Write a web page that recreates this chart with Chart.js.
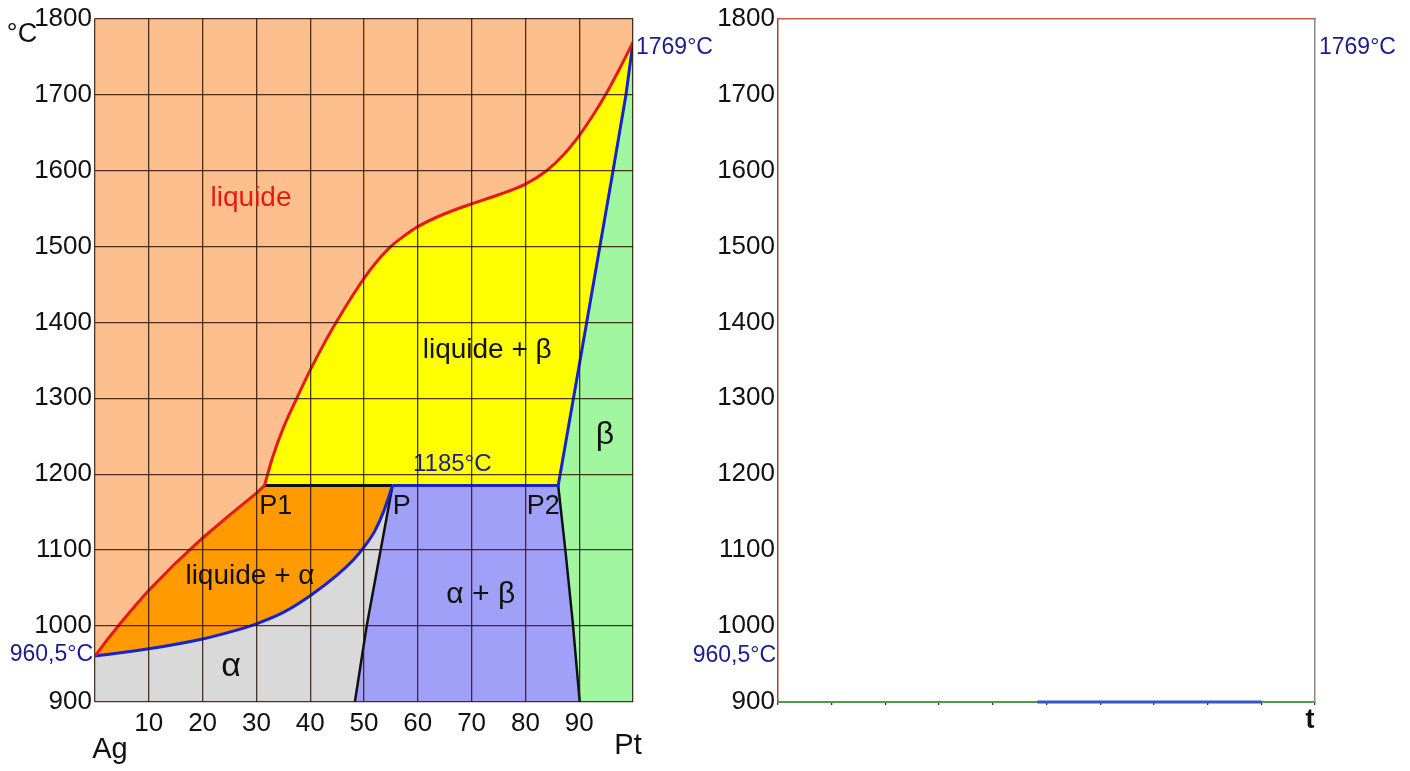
<!DOCTYPE html>
<html>
<head>
<meta charset="utf-8">
<title>Diagramme Ag-Pt</title>
<script src="https://cdn.jsdelivr.net/npm/chart.js@4.4.1/dist/chart.umd.min.js"></script>
<style>
  html, body { margin: 0; padding: 0; background: #fff; }
  #wrap { position: relative; width: 1410px; height: 771px; }
  .box { position: absolute; top: 0; height: 771px; }
  #left { left: 0; width: 715px; }
  #right { left: 685px; width: 725px; }
</style>
</head>
<body>
<div id="wrap">
  <div class="box" id="left"><canvas id="phaseChart"></canvas></div>
  <div class="box" id="right"><canvas id="coolingChart"></canvas></div>
</div>
<script>
// axes: composition (% Pt) and temperature (°C)
const ptTicks = [10, 20, 30, 40, 50, 60, 70, 80, 90];
const tempTicks = [900, 1000, 1100, 1200, 1300, 1400, 1500, 1600, 1700, 1800];

const meltAg = 960.5;
const meltPt = 1769;
const plateauT = 1185;
const P1 = 31.5, P = 55.3, P2 = 86.1;

// liquidus, Ag side (down to P1)
const liquidusAgX = [0, 2.5, 5, 7.5, 10, 15, 20, 25, 30, 31.5];
const liquidusAgY = [960.5, 984, 1006, 1027, 1047, 1083, 1116, 1146, 1175, 1185];

// liquidus, Pt side (from P1 up to Pt)
const liquidusPtX = [31.5, 33, 35, 37.5, 40, 42.5, 45, 47.5, 50, 52.5, 55, 57.5, 60, 65, 70, 75, 80, 84, 87, 90, 92.5, 95, 97.5, 100];
const liquidusPtY = [1185, 1222, 1261, 1300, 1337, 1371, 1402, 1431, 1458, 1481, 1500, 1514, 1526, 1543, 1556, 1568, 1582, 1600, 1620, 1646, 1672, 1701, 1734, 1769];

// solidus of alpha (Ag to P)
const solidusAgX = [0, 10, 20, 25, 30, 35, 40, 45, 48, 50, 52, 53.6, 55.3];
const solidusAgY = [960.5, 970, 983, 992, 1003, 1018, 1040, 1067, 1087, 1104, 1125, 1150, 1185];

// solidus of beta (P2 to Pt)
const solidusPtX = [86.1, 91, 96.3, 98.7, 100];
const solidusPtY = [1185, 1384, 1600, 1700, 1769];

// solvus lines
const solvusAlphaX = [48.3, 50.5, 55.3];
const solvusAlphaY = [900, 1000, 1185];
const solvusBetaX = [86.1, 87.5, 88.8, 90.1];
const solvusBetaY = [1185, 1095, 1005, 900];

// texts inside the diagram
const phaseLabels = ['liquide', 'liquide + β', 'liquide + α', 'α', 'α + β', 'β', '1185°C', 'P1', 'P', 'P2'];
const phaseLabelPt = [29, 72.9, 28.8, 25.3, 71.7, 94.8, 66.4, 33.6, 57, 83.3];
const phaseLabelT = [1564, 1363, 1066, 946, 1041, 1251, 1213, 1157, 1158, 1157];

const FONT = "'Liberation Sans', Arial, sans-serif";
const GRID = 'rgba(45,22,8,0.85)';
const RED = '#e41b17';
const BLUE = '#1a22d0';
const NAVY = '#1c1c8c';

const pts = (xs, ys) => xs.map((x, i) => ({ x, y: ys[i] }));
const at = (x, y) => ({ x, y });

const labelStyle = [
  { color: RED, size: 28 },
  { color: '#111', size: 28 },
  { color: '#111', size: 28 },
  { color: '#111', size: 34 },
  { color: '#111', size: 30 },
  { color: '#111', size: 32 },
  { color: NAVY, size: 24 },
  { color: '#111', size: 27 },
  { color: '#111', size: 27 },
  { color: '#111', size: 27 },
];

// draws the annotation texts through the chart scales
const textPlugin = {
  id: 'phaseText',
  afterDraw(chart, args, opts) {
    const { ctx, chartArea: ca } = chart;
    const xs = chart.scales.x, ys = chart.scales.y;
    (opts.items || []).forEach(it => {
      let px = it.xv != null ? xs.getPixelForValue(it.xv) : (it.xEdge === 'left' ? ca.left : ca.right);
      let py = it.yv != null ? ys.getPixelForValue(it.yv) : (it.yEdge === 'top' ? ca.top : ca.bottom);
      ctx.save();
      ctx.font = (it.weight || 'normal') + ' ' + it.size + 'px ' + FONT;
      ctx.fillStyle = it.color;
      ctx.textAlign = it.align || 'center';
      ctx.textBaseline = 'middle';
      ctx.fillText(it.text, px + (it.dx || 0), py + (it.dy || 0));
      ctx.restore();
    });
  }
};

const bg = {
  id: 'plotBg',
  beforeDraw(chart, args, opts) {
    if (!opts.color) return;
    const { ctx, chartArea: ca } = chart;
    ctx.save();
    ctx.fillStyle = opts.color;
    ctx.fillRect(ca.left, ca.top, ca.right - ca.left, ca.bottom - ca.top);
    ctx.restore();
  }
};

function lineDs(data, color, width, mode, order) {
  return {
    data, borderColor: color, borderWidth: width, pointRadius: 0, fill: false,
    tension: 0, cubicInterpolationMode: mode || 'default', order: order || 1,
  };
}
function fillDs(data, color, fill, mode, order) {
  return {
    data, borderWidth: 0, borderColor: 'rgba(0,0,0,0)', backgroundColor: color, pointRadius: 0,
    fill, tension: 0, cubicInterpolationMode: mode || 'default', order,
  };
}

const tickFont = { family: FONT, size: 26 };

function tempAxis(onArea, borderColor) {
  return {
    type: 'linear', position: 'left', min: 900, max: 1800,
    afterBuildTicks: s => { s.ticks = tempTicks.map(v => ({ value: v })); },
    ticks: { font: tickFont, color: '#111', padding: 3, callback: v => String(v) },
    grid: { z: 1, color: GRID, lineWidth: 1.3, drawTicks: false, drawOnChartArea: onArea },
    border: { z: 2, display: !!borderColor, color: borderColor || '#444', width: 1.5 },
  };
}
function ptAxis(onArea, borderColor) {
  return {
    type: 'linear', position: 'bottom', min: 0, max: 100,
    afterBuildTicks: s => { s.ticks = [0].concat(ptTicks, [100]).map(v => ({ value: v })); },
    ticks: {
      font: tickFont, color: '#111', padding: 6, maxRotation: 0, autoSkip: false,
      callback: v => (onArea && ptTicks.includes(v)) ? String(v) : '',
    },
    grid: { z: 1, color: GRID, lineWidth: 1.3, drawTicks: false, drawOnChartArea: onArea },
    border: { z: 2, display: !!borderColor, color: borderColor || '#444', width: 2 },
  };
}

// ---- phase diagram ----
const liqAg = pts(liquidusAgX, liquidusAgY);
const liqPt = pts(liquidusPtX, liquidusPtY);
const solAg = pts(solidusAgX, solidusAgY);
const solPt = pts(solidusPtX, solidusPtY);
const svA = pts(solvusAlphaX, solvusAlphaY);
const svB = pts(solvusBetaX, solvusBetaY);

const phaseDatasets = [
  lineDs(liqAg, RED, 3),                                        // 0
  lineDs(liqPt, RED, 3, 'monotone'),                            // 1
  lineDs(solAg, BLUE, 3, 'monotone'),                           // 2
  lineDs([at(P, plateauT)].concat(solPt), BLUE, 3),             // 3
  lineDs([at(P1, plateauT), at(P, plateauT)], '#111', 3),       // 4
  lineDs(svA, '#111', 2.5),                                     // 5
  lineDs(svB, '#111', 2.5),                                     // 6
  fillDs(solAg, '#d9d9d9', 'start', 'monotone', 10),            // 7 alpha
  fillDs(solPt, '#a0f7a0', 'start', 'default', 10),             // 8 beta
  fillDs(svA.concat(svB), '#a0a0f8', 'start', 'default', 8),    // 9 alpha + beta
  fillDs(liqAg.concat([at(P, plateauT)]), '#ff9a00', 2, 'default', 9),   // 10 liquide + alpha
  fillDs(liqPt, '#ffff00', 12, 'monotone', 9),                  // 11 liquide + beta
  fillDs([at(P1, plateauT)].concat(solPt), 'rgba(0,0,0,0)', false, 'default', 20), // 12 helper floor
];

const phaseItems = phaseLabels.map((t, i) => ({
  text: t, xv: phaseLabelPt[i], yv: phaseLabelT[i], color: labelStyle[i].color, size: labelStyle[i].size,
})).concat([
  { text: '960,5°C', xEdge: 'left', yv: meltAg, dx: -2, dy: -1, align: 'right', color: NAVY, size: 23 },
  { text: '1769°C', xEdge: 'right', yv: meltPt, dx: 3, dy: 6, align: 'left', color: NAVY, size: 23 },
  { text: '°C', xEdge: 'left', yEdge: 'top', dx: -73, dy: 16, color: '#111', size: 27 },
  { text: 'Ag', xv: 0, yEdge: 'bottom', dx: 15, dy: 48, color: '#111', size: 29 },
  { text: 'Pt', xv: 100, yEdge: 'bottom', dx: -5, dy: 44, color: '#111', size: 29 },
]);

const leftX = ptAxis(true);
leftX.afterFit = s => { s.height = 69; };
const leftY = tempAxis(true);
leftY.afterFit = s => { s.width = 95; };

new Chart(document.getElementById('phaseChart'), {
  type: 'line',
  data: { datasets: phaseDatasets },
  options: {
    responsive: true, maintainAspectRatio: false, animation: false,
    layout: { padding: { left: 0, right: 82, top: 18, bottom: 0 } },
    scales: { x: leftX, y: leftY },
    plugins: {
      legend: { display: false }, tooltip: { enabled: false },
      plotBg: { color: '#fdbf8e' },
      phaseText: { items: phaseItems },
    },
  },
  plugins: [bg, textPlugin],
});

// ---- empty cooling-curve frame ----
const rightX = ptAxis(false, '#4e9a4e');
rightX.grid.drawTicks = true;
rightX.grid.tickLength = 3;
rightX.grid.color = '#333';
rightX.grid.z = -1;
rightX.border.z = 0;
rightX.afterFit = s => { s.height = 69; };
const rightY = tempAxis(false, '#a0482e');
rightY.afterFit = s => { s.width = 93; };

const bottomSegment = lineDs([at(solvusAlphaX[0], 900), at(solvusBetaX[solvusBetaX.length - 1], 900)], '#3355cc', 3);
bottomSegment.clip = 4;

new Chart(document.getElementById('coolingChart'), {
  type: 'line',
  data: { datasets: [bottomSegment] },
  options: {
    responsive: true, maintainAspectRatio: false, animation: false,
    layout: { padding: { left: 0, right: 95, top: 18, bottom: 0 } },
    scales: {
      x: rightX,
      y: rightY,
      x2: {
        type: 'linear', position: 'top', min: 0, max: 100,
        ticks: { display: false }, grid: { drawOnChartArea: false, drawTicks: false },
        border: { z: 2, color: '#c85a4a', width: 1.5 }, afterFit: s => { s.height = 0; },
      },
      y2: {
        type: 'linear', position: 'right', min: 900, max: 1800,
        ticks: { display: false }, grid: { drawOnChartArea: false, drawTicks: false },
        border: { z: 2, color: '#8a8a8a', width: 1.5 }, afterFit: s => { s.width = 0; },
      },
    },
    plugins: {
      legend: { display: false }, tooltip: { enabled: false },
      phaseText: {
        items: [
          { text: '960,5°C', xEdge: 'left', yv: meltAg, dx: -2, dy: 0, align: 'right', color: NAVY, size: 23 },
          { text: '1769°C', xEdge: 'right', yv: meltPt, dx: 4, dy: 6, align: 'left', color: NAVY, size: 23 },
          { text: 't', xEdge: 'right', yEdge: 'bottom', dx: -5, dy: 19, color: '#111', size: 27, weight: 'bold' },
        ],
      },
    },
  },
  plugins: [textPlugin],
});
</script>
</body>
</html>
